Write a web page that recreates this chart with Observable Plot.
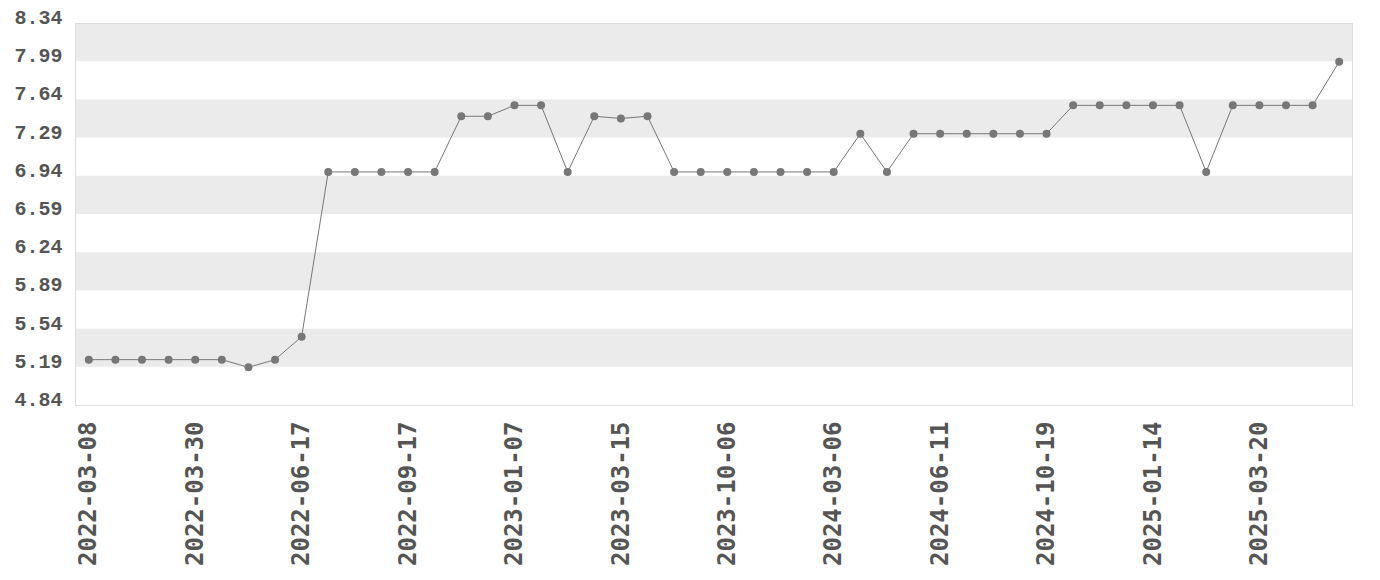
<!DOCTYPE html>
<html>
<head>
<meta charset="utf-8">
<script src="https://cdn.jsdelivr.net/npm/d3@7"></script>
<script src="https://cdn.jsdelivr.net/npm/@observablehq/plot@0.6"></script>
<style>
  html, body { margin: 0; padding: 0; background: #fff; }
  #chart { width: 1380px; height: 580px; }
</style>
</head>
<body>
<div id="chart"></div>
<script>
// Series values, one per observation (48 observations, in order)
const values = [
  5.26, 5.26, 5.26, 5.26, 5.26, 5.26, 5.19, 5.26, 5.47,
  6.98, 6.98, 6.98, 6.98, 6.98,
  7.49, 7.49, 7.59, 7.59, 6.98, 7.49, 7.47, 7.49,
  6.98, 6.98, 6.98, 6.98, 6.98, 6.98, 6.98,
  7.33, 6.98,
  7.33, 7.33, 7.33, 7.33, 7.33, 7.33,
  7.59, 7.59, 7.59, 7.59, 7.59,
  6.98,
  7.59, 7.59, 7.59, 7.59,
  7.99
];
// Date labels shown on the x axis (every 4th observation)
const xTickIndex = [0, 4, 8, 12, 16, 20, 24, 28, 32, 36, 40, 44];
const xTickLabels = [
  "2022-03-08", "2022-03-30", "2022-06-17", "2022-09-17",
  "2023-01-07", "2023-03-15", "2023-10-06", "2024-03-06",
  "2024-06-11", "2024-10-19", "2025-01-14", "2025-03-20"
];
// Y axis tick labels
const yTicks = [4.84, 5.19, 5.54, 5.89, 6.24, 6.59, 6.94, 7.29, 7.64, 7.99, 8.34];

const data = values.map((v, i) => ({i, v}));
const bands = [];
for (let k = yTicks.length - 2; k >= 0; k -= 2) bands.push({y1: yTicks[k], y2: yTicks[k + 1]});
const labelOf = new Map(xTickIndex.map((d, k) => [d, xTickLabels[k]]));

const chart = Plot.plot({
  width: 1380,
  height: 580,
  marginLeft: 75,
  marginRight: 28,
  marginTop: 23,
  marginBottom: 175,
  style: {fontFamily: "'Liberation Mono', monospace", fontWeight: "bold", background: "#fff"},
  x: {type: "linear", domain: [-0.5, values.length - 0.5]},
  y: {domain: [yTicks[0], yTicks[yTicks.length - 1]]},
  marks: [
    Plot.rect(bands, {y1: "y1", y2: "y2", fill: "#ebebeb"}),
    Plot.frame({stroke: "#dddddd"}),
    Plot.axisY({
      ticks: yTicks, tickSize: 0, tickPadding: 13, tickFormat: d => d.toFixed(2),
      fontSize: 20, fill: "#555", dy: -6, label: null,
      fontFamily: "'Liberation Mono', monospace"
    }),
    Plot.axisX({
      ticks: xTickIndex, tickSize: 0, tickPadding: 16, tickRotate: -90,
      tickFormat: d => labelOf.get(d), fontSize: 24, fill: "#555", label: null,
      fontFamily: "'DejaVu Sans Mono', monospace"
    }),
    Plot.line(data, {x: "i", y: "v", stroke: "#777", strokeWidth: 1}),
    Plot.dot(data, {x: "i", y: "v", r: 4, fill: "#777", stroke: "none"})
  ]
});
document.getElementById("chart").appendChild(chart);
</script>
</body>
</html>
